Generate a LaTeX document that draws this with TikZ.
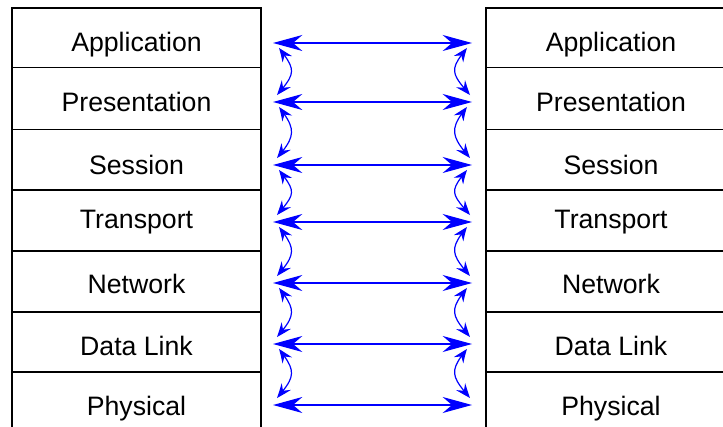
\documentclass[tikz,border=0pt]{standalone}
\usepackage{fontspec}
\setmainfont{Liberation Sans}
\usetikzlibrary{arrows.meta,bending,fit}
\begin{document}
\begin{tikzpicture}[x=0.75pt,y=-0.75pt,
  cell/.style={draw=black, line width=1.3pt, rectangle, inner sep=0pt},
  layer/.style={anchor=base, inner sep=0pt, font=\fontsize{20}{24}\selectfont},
  peer/.style={draw=blue, line width=1.1pt,
    {Stealth[length=22pt,width=12pt,inset=7pt]}-{Stealth[length=22pt,width=12pt,inset=7pt]}},
  stackarrow/.style={draw=blue, line width=0.9pt,
    {Stealth[length=11pt,width=8.5pt,inset=4pt,bend]}-{Stealth[length=11pt,width=8.5pt,inset=4pt,bend]}}]
\useasboundingbox (0,0) rectangle (723,427);
\clip (0,0) rectangle (723,427);

% the two protocol stacks, one cell per layer
\foreach \i/\t/\b/\base/\txt in {
    1/8/67.5/52/Application,
    2/67.5/129.5/112/Presentation,
    3/129.5/190/175/Session,
    4/190/251/229/Transport,
    5/251/312/293/Network,
    6/312/372/355/Data Link,
    7/372/433/415/Physical}{
  \node[cell, fit={(12,\t) (261,\b)}] (L\i) {};
  \node[cell, fit={(486,\t) (736,\b)}] (R\i) {};
  \node[layer] (Lt\i) at (136.5,\base) {\txt};
  \node[layer] (Rt\i) at (611,\base) {\txt};
}

% end points of the peer-to-peer links
\foreach \i/\y in {1/43,2/102,3/165,4/222,5/283,6/344,7/405}{
  \coordinate (pl\i) at (273,\y);
  \coordinate (pr\i) at (472,\y);
  \coordinate (sl\i) at (279,{\y+5});
  \coordinate (el\i) at (277,{\y-7});
  \coordinate (sr\i) at (467,{\y+5});
  \coordinate (er\i) at (470,{\y-7});
  \draw[peer] (pl\i) -- (pr\i);
}

% links between adjacent layers of each stack
\foreach \i/\j in {1/2,2/3,3/4,4/5,5/6,6/7}{
  \draw[stackarrow] (sl\i) .. controls +(17,22) and +(19,-22) .. (el\j);
  \draw[stackarrow] (sr\i) .. controls +(-18,22) and +(-19,-22) .. (er\j);
}
\end{tikzpicture}
\end{document}
